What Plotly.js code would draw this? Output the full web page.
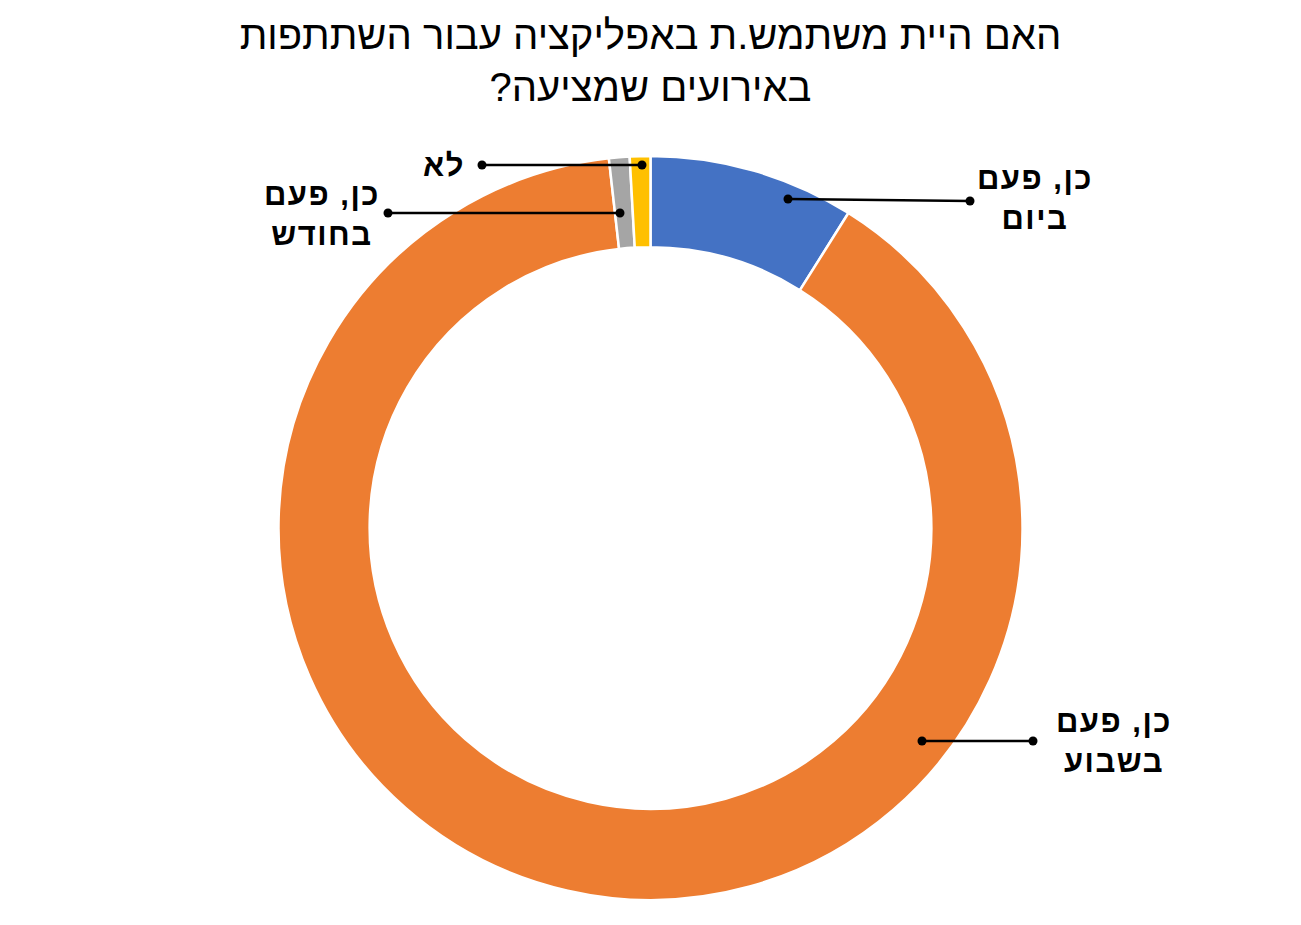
<!DOCTYPE html>
<html>
<head>
<meta charset="utf-8">
<script src="https://cdn.plot.ly/plotly-3.0.1.min.js"></script>
<style>html,body{margin:0;padding:0;background:#fff;}#chart{width:1301px;height:925px;}
.annotation-text{letter-spacing:1.5px;}</style>
</head>
<body>
<div id="chart"></div>
<script>
const categories = ["כן, פעם ביום", "כן, פעם בשבוע", "כן, פעם בחודש", "לא"];
const labelText = ["כן, פעם<br>ביום", "כן, פעם<br>בשבוע", "כן, פעם<br>בחודש", "לא"];
const values = [10, 100, 1, 1];
const colors = ["#4472C4", "#ED7D31", "#A5A5A5", "#FFC000"];
const titleText = "האם היית משתמש.ת באפליקציה עבור השתתפות<br>באירועים שמציעה?\u200F";

const W = 1301, H = 925, T = 156, B = 25;
const px = x => x / W;
const py = y => (H - B - y) / (H - T - B);

const labelPos = [
  {tx: 1035, ty: 199, anchor: "center", l1: [970, 201], l2: [788, 199]},
  {tx: 1114, ty: 741, anchor: "center", l1: [1033, 741], l2: [922, 741]},
  {tx: 322, ty: 214, anchor: "center", l1: [388, 213], l2: [620, 213]},
  {tx: 467, ty: 165, anchor: "right", l1: [482, 165], l2: [642, 165]}
];

const annotations = [];
const shapes = [];
categories.forEach((c, i) => {
  const p = labelPos[i];
  annotations.push({
    text: labelText[i], xref: "paper", yref: "paper",
    x: px(p.tx), y: py(p.ty), xanchor: p.anchor, yanchor: "middle",
    showarrow: false, align: "center",
    font: {family: "Liberation Sans, Arial, sans-serif", size: 31, weight: "bold", color: "#000"}
  });
  shapes.push({type: "line", xref: "paper", yref: "paper",
    x0: px(p.l1[0]), y0: py(p.l1[1]), x1: px(p.l2[0]), y1: py(p.l2[1]),
    line: {color: "#000", width: 2.5}});
  [p.l1, p.l2].forEach(pt => shapes.push({type: "circle", xref: "paper", yref: "paper",
    xsizemode: "pixel", ysizemode: "pixel", xanchor: px(pt[0]), yanchor: py(pt[1]),
    x0: -4.5, x1: 4.5, y0: -4.5, y1: 4.5,
    fillcolor: "#000", line: {color: "#000", width: 0}}));
});

const data = [{
  type: "pie", labels: categories, values: values,
  marker: {colors: colors, line: {color: "#fff", width: 2.5}},
  hole: 0.755, sort: false, direction: "clockwise", rotation: 0,
  textinfo: "none", hoverinfo: "label+value", showlegend: false
}];

const layout = {
  width: W, height: H,
  margin: {l: 0, r: 0, t: T, b: B},
  paper_bgcolor: "#fff", plot_bgcolor: "#fff",
  title: {text: titleText, x: 0.5, xanchor: "center", y: 1 - 49 / H, yanchor: "middle", yref: "container",
    font: {family: "Liberation Sans, Arial, sans-serif", size: 40, color: "#000"}},
  annotations: annotations, shapes: shapes, showlegend: false
};

Plotly.newPlot("chart", data, layout, {displayModeBar: false, staticPlot: true});
</script>
</body>
</html>
